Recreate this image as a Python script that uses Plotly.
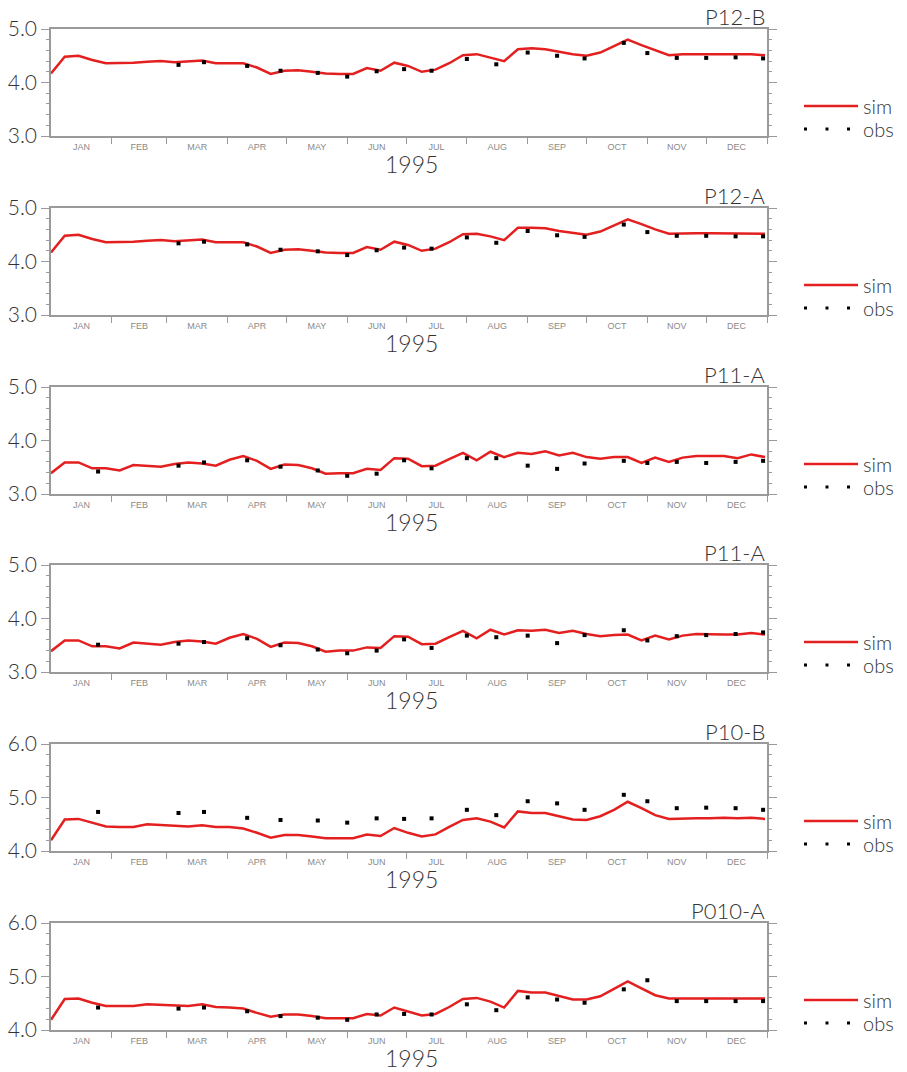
import plotly.graph_objects as go
import pandas as pd

W, H = 907, 1072

# ---------------- data ----------------
panel_titles = ["P12-B", "P12-A", "P11-A", "P11-A", "P10-B", "P010-A"]
y_ranges = [[3, 5], [3, 5], [3, 5], [3, 5], [4, 6], [4, 6]]
year_label = "1995"
month_labels = ["JAN", "FEB", "MAR", "APR", "MAY", "JUN",
                "JUL", "AUG", "SEP", "OCT", "NOV", "DEC"]

# weekly simulated values (53 weeks starting 1995-01-01)
sim_dates = pd.date_range("1995-01-01", periods=53, freq="7D")

sim_p12b = [4.17, 4.48, 4.50, 4.42, 4.36, 4.36, 4.37, 4.39, 4.40, 4.38, 4.39, 4.41, 4.36, 4.36,
            4.36, 4.28, 4.16, 4.22, 4.23, 4.20, 4.17, 4.16, 4.16, 4.27, 4.22, 4.37, 4.31, 4.20,
            4.24, 4.36, 4.51, 4.53, 4.47, 4.40, 4.62, 4.64, 4.62, 4.57, 4.53, 4.50, 4.56, 4.68,
            4.80, 4.70, 4.60, 4.51, 4.53, 4.53, 4.53, 4.53, 4.52, 4.53, 4.51]
sim_p12a = [4.17, 4.48, 4.50, 4.42, 4.36, 4.36, 4.37, 4.39, 4.40, 4.38, 4.39, 4.41, 4.36, 4.36,
            4.36, 4.28, 4.16, 4.22, 4.23, 4.20, 4.17, 4.16, 4.16, 4.27, 4.22, 4.37, 4.31, 4.20,
            4.24, 4.36, 4.51, 4.52, 4.47, 4.40, 4.63, 4.63, 4.62, 4.57, 4.53, 4.50, 4.56, 4.68,
            4.79, 4.70, 4.60, 4.52, 4.53, 4.53, 4.53, 4.53, 4.52, 4.53, 4.52]
sim_p11a_1 = [3.39, 3.59, 3.59, 3.48, 3.48, 3.44, 3.54, 3.52, 3.51, 3.56, 3.59, 3.57, 3.53, 3.64,
              3.71, 3.62, 3.47, 3.55, 3.54, 3.48, 3.38, 3.39, 3.39, 3.47, 3.45, 3.67, 3.66, 3.52,
              3.53, 3.65, 3.77, 3.63, 3.79, 3.69, 3.77, 3.75, 3.80, 3.72, 3.77, 3.69, 3.66, 3.69,
              3.69, 3.58, 3.68, 3.60, 3.68, 3.71, 3.71, 3.71, 3.67, 3.74, 3.69]
sim_p11a_2 = [3.39, 3.59, 3.59, 3.48, 3.48, 3.44, 3.55, 3.53, 3.51, 3.56, 3.59, 3.57, 3.53, 3.64,
              3.71, 3.62, 3.47, 3.55, 3.54, 3.48, 3.38, 3.40, 3.40, 3.46, 3.45, 3.67, 3.66, 3.52,
              3.53, 3.65, 3.77, 3.63, 3.79, 3.70, 3.78, 3.77, 3.79, 3.73, 3.77, 3.71, 3.67, 3.69,
              3.70, 3.59, 3.68, 3.61, 3.68, 3.71, 3.70, 3.70, 3.70, 3.73, 3.70]
sim_p10b = [4.20, 4.59, 4.60, 4.53, 4.46, 4.45, 4.45, 4.50, 4.49, 4.47, 4.46, 4.48, 4.45, 4.45,
            4.42, 4.34, 4.25, 4.30, 4.30, 4.27, 4.24, 4.24, 4.24, 4.31, 4.28, 4.43, 4.34, 4.27,
            4.31, 4.45, 4.58, 4.61, 4.55, 4.44, 4.74, 4.71, 4.71, 4.65, 4.59, 4.58, 4.65, 4.77,
            4.92, 4.80, 4.67, 4.60, 4.61, 4.61, 4.61, 4.62, 4.61, 4.62, 4.60]
sim_p010a = [4.19, 4.58, 4.59, 4.51, 4.45, 4.45, 4.45, 4.48, 4.47, 4.46, 4.45, 4.48, 4.43, 4.42,
             4.40, 4.32, 4.25, 4.29, 4.29, 4.26, 4.22, 4.22, 4.22, 4.30, 4.27, 4.42, 4.34, 4.27,
             4.30, 4.43, 4.58, 4.60, 4.53, 4.42, 4.73, 4.70, 4.70, 4.63, 4.57, 4.57, 4.63, 4.77,
             4.91, 4.78, 4.65, 4.59, 4.59, 4.60, 4.60, 4.60, 4.59, 4.60, 4.59]

obs_dates = ["1995-01-25", "1995-03-07", "1995-03-20", "1995-04-11", "1995-04-28",
             "1995-05-17", "1995-06-01", "1995-06-16", "1995-06-30", "1995-07-14",
             "1995-08-01", "1995-08-16", "1995-09-01", "1995-09-16", "1995-09-30",
             "1995-10-20", "1995-11-01", "1995-11-16", "1995-12-01", "1995-12-16",
             "1995-12-30"]
obs_p12b = [None, 4.33, 4.38, 4.31, 4.22, 4.18, 4.11, 4.21, 4.25, 4.22, 4.44,
            4.34, 4.56, 4.50, 4.45, 4.74, 4.55, 4.46, 4.46, 4.47, 4.45]
obs_p12a = [None, 4.34, 4.37, 4.32, 4.22, 4.19, 4.12, 4.21, 4.26, 4.24, 4.45,
            4.35, 4.57, 4.49, 4.46, 4.69, 4.55, 4.48, 4.48, 4.47, 4.47]
obs_p11a_1 = [3.42, 3.53, 3.59, 3.63, 3.51, 3.44, 3.34, 3.38, 3.63, 3.48, 3.67,
              3.67, 3.53, 3.47, 3.57, 3.62, 3.58, 3.60, 3.58, 3.60, 3.62]
obs_p11a_2 = [3.51, 3.53, 3.56, 3.63, 3.50, 3.42, 3.35, 3.40, 3.61, 3.45, 3.68,
              3.65, 3.68, 3.54, 3.69, 3.78, 3.59, 3.67, 3.69, 3.71, 3.74]
obs_p10b = [4.73, 4.71, 4.73, 4.62, 4.58, 4.57, 4.53, 4.61, 4.60, 4.61, 4.77,
            4.67, 4.93, 4.89, 4.77, 5.05, 4.93, 4.80, 4.81, 4.80, 4.77]
obs_p010a = [4.42, 4.40, 4.42, 4.35, 4.26, 4.23, 4.19, 4.29, 4.30, 4.29, 4.48,
             4.37, 4.61, 4.57, 4.51, 4.76, 4.93, 4.54, 4.54, 4.54, 4.54]

sim_series = [sim_p12b, sim_p12a, sim_p11a_1, sim_p11a_2, sim_p10b, sim_p010a]
obs_series = [obs_p12b, obs_p12a, obs_p11a_1, obs_p11a_2, obs_p10b, obs_p010a]

# ---------------- styling / layout ----------------
FONT = "Lato"
TXT = "#333333"
AX = "#9a9a9a"
RED = "#e3201f"
LIGHT = 300

# positions in screen pixels
panel_tops = [29, 208, 387, 565, 744, 923]
panel_h = 107
x_left, x_right = 51, 767


def px(x):
    return x / W


def py(y):
    return (H - y) / H


month_starts = pd.date_range("1995-01-01", "1996-01-01", freq="MS")
month_bounds = list(month_starts[1:])
month_mids = [month_starts[i] + (month_starts[i + 1] - month_starts[i]) / 2 for i in range(12)]

fig = go.Figure()
layout = dict(
    width=W, height=H,
    margin=dict(l=0, r=0, t=0, b=0, autoexpand=False),
    paper_bgcolor="white", plot_bgcolor="white",
    font=dict(family=FONT, color=TXT),
    annotations=[],
)

for i in range(6):
    n = "" if i == 0 else str(i + 1)
    top = panel_tops[i]
    bot = top + panel_h
    ydom = [py(bot), py(top)]
    xdom = [px(x_left), px(x_right)]
    leg_sim = "legend" + ("" if i == 0 else str(2 * i + 1))
    leg_obs = "legend" + str(2 * i + 2)

    fig.add_trace(go.Scatter(
        x=sim_dates, y=sim_series[i], mode="lines", name="sim",
        line=dict(color=RED, width=2.5), xaxis="x" + n, yaxis="y" + n,
        legend=leg_sim, showlegend=True))
    fig.add_trace(go.Scatter(
        x=obs_dates, y=obs_series[i], mode="markers", name="obs",
        marker=dict(color="black", size=4, symbol="square"),
        xaxis="x" + n, yaxis="y" + n, legend=leg_obs, showlegend=False))
    # legend entry for obs drawn as a dotted line
    fig.add_trace(go.Scatter(
        x=[None], y=[None], mode="lines", name="obs",
        line=dict(color="black", width=3, dash="3px,18.5px"),
        xaxis="x" + n, yaxis="y" + n, legend=leg_obs, showlegend=True))

    layout["xaxis" + n] = dict(
        domain=xdom, anchor="y" + n, type="date", automargin=False,
        range=["1995-01-01", "1996-01-01"],
        tickmode="array", tickvals=month_mids, ticktext=month_labels,
        ticks="outside", ticklen=1, tickcolor="rgba(0,0,0,0)",
        showline=True, linecolor=AX, linewidth=1.5, mirror=True,
        showgrid=False, zeroline=False,
        tickfont=dict(family="Liberation Sans", size=9, color="#8a8a8a"),
        minor=dict(tickmode="array", tickvals=month_bounds, ticks="outside",
                   ticklen=6, tickcolor=AX, tickwidth=1, showgrid=False),
    )
    layout["yaxis" + n] = dict(
        domain=ydom, anchor="x" + n, range=y_ranges[i], automargin=False,
        tickmode="linear", tick0=0, dtick=1, tickformat=".1f",
        ticks="outside", ticklen=8, tickcolor=AX, tickwidth=1,
        showline=True, linecolor=AX, linewidth=1.5, mirror="allticks",
        showgrid=False, zeroline=False,
        tickfont=dict(family=FONT, size=21, color=TXT, weight=LIGHT),
        minor=dict(dtick=0.2, ticks="outside", ticklen=3, tickcolor=AX,
                   tickwidth=1, showgrid=False),
    )
    for leg, yc in ((leg_sim, top + 77), (leg_obs, top + 100)):
        layout[leg] = dict(
            x=px(799), xanchor="left",
            y=py(yc), yanchor="middle",
            bgcolor="rgba(0,0,0,0)", borderwidth=0,
            font=dict(family=FONT, size=20, color=TXT, weight=LIGHT),
            itemwidth=54, tracegroupgap=0,
        )
    layout["annotations"].append(dict(
        text=panel_titles[i], xref="paper", yref="paper",
        x=px(x_right), y=py(top + 3), xanchor="right", yanchor="bottom",
        showarrow=False, font=dict(family=FONT, size=22, color=TXT, weight=LIGHT)))
    layout["annotations"].append(dict(
        text=year_label, xref="paper", yref="paper",
        x=px(411), y=py(bot + 12), xanchor="center", yanchor="top",
        showarrow=False, font=dict(family=FONT, size=23, color=TXT, weight=LIGHT)))

fig.update_layout(**layout)
# remove the default page margin so the figure fills the window exactly
fig.write_html("out.html", config={"displayModeBar": False},
               post_script="document.body.style.margin='0px';")
